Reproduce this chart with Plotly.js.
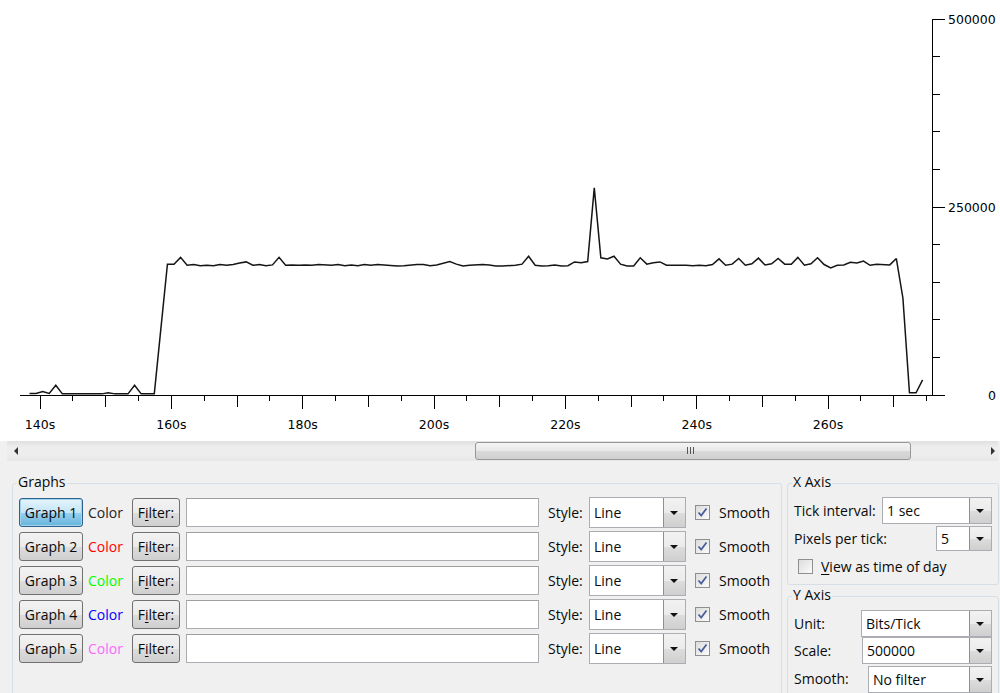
<!DOCTYPE html>
<html>
<head>
<meta charset="utf-8">
<script src="https://cdn.plot.ly/plotly-3.0.1.min.js"></script>
<style>
  html, body { margin:0; padding:0; width:1000px; height:693px; overflow:hidden; background:#f0f0f0; }
  #top { position:absolute; left:0; top:0; width:1000px; height:441px; background:#fff; }
  #chart { position:absolute; left:0; top:0; width:1000px; height:437px; }
  .g { position:absolute; font-family:"Open Sans", "Noto Sans", sans-serif; font-size:14px; color:#0a0a0a; white-space:nowrap; }
  .lbl { position:absolute; display:flex; align-items:center; height:29px; }
  .btn { position:absolute; height:27px; border:1px solid #707070; border-radius:3px;
         background:linear-gradient(#f2f2f2 0%, #ebebeb 50%, #dddddd 51%, #cfcfcf 100%);
         display:flex; align-items:center; justify-content:center; box-sizing:content-box; }
  .btn.focus { border-color:#2c628b; background:linear-gradient(#e5f4fc 0%, #c4e5f6 50%, #98d1ef 51%, #68b3db 100%);
         box-shadow: inset 0 0 0 1px #9fd3f0; }
  .inp { position:absolute; height:27px; border:1px solid #abadb3; border-top-color:#a0a0a0; background:#fff; }
  .combo { position:absolute; border:1px solid #abadb3; background:#fff; box-sizing:border-box; }
  .combo .t { position:absolute; left:4px; top:0; bottom:0; display:flex; align-items:center; }
  .combo .dd { position:absolute; right:0; top:0; bottom:0; width:21px; border-left:1px solid #8e8f8f;
         background:linear-gradient(#f2f2f2 0%, #ebebeb 50%, #dddddd 51%, #cfcfcf 100%); }
  .combo .dd:after { content:""; position:absolute; left:6px; top:50%; margin-top:-2px; border-left:4px solid transparent;
         border-right:4px solid transparent; border-top:4px solid #111; }
  .chk { position:absolute; width:13px; height:13px; border:1px solid #8e8f8f; background:linear-gradient(135deg,#dcdcdc,#fbfbfb); }
  .chk svg { position:absolute; left:1px; top:1px; }
  .grp { position:absolute; border:1px solid #d5dfe5; border-radius:3px; }
  .grpt { position:absolute; background:#f0f0f0; padding:0 1px; line-height:16px; }
  u { text-decoration:underline; text-underline-offset:2px; }
</style>
</head>
<body>
<div id="top"></div>
<div id="chart"></div>

<!-- scrollbar -->
<div style="position:absolute;left:7px;top:441px;width:991px;height:20px;background:linear-gradient(#e0e0e0,#ededed 30%,#ededed 70%,#e6e6e6);"></div>
<div style="position:absolute;left:14px;top:447px;width:0;height:0;border-top:4px solid transparent;border-bottom:4px solid transparent;border-right:4px solid #333;"></div>
<div style="position:absolute;left:991px;top:447px;width:0;height:0;border-top:4px solid transparent;border-bottom:4px solid transparent;border-left:4px solid #333;"></div>
<div style="position:absolute;left:475px;top:442px;width:434px;height:16px;border:1px solid #979797;border-radius:3px;background:linear-gradient(#f4f4f4,#e8e8e8 50%,#d9d9d9 51%,#d0d0d0);"></div>
<div style="position:absolute;left:687px;top:447px;width:1px;height:7px;background:#555;"></div>
<div style="position:absolute;left:690px;top:447px;width:1px;height:7px;background:#555;"></div>
<div style="position:absolute;left:693px;top:447px;width:1px;height:7px;background:#555;"></div>

<div id="gui"></div>

<script>
// ---------------- data ----------------
const times = [138.4,139.4,140.4,141.4,142.4,143.4,144.4,145.4,146.4,147.4,148.4,149.4,150.4,151.4,152.4,153.4,154.4,155.4,156.4,157.4,
  158.4,159.4,160.4,161.4,162.4,163.4,164.4,165.4,166.4,167.4,168.4,169.4,170.4,171.4,172.4,173.4,174.4,175.4,176.4,177.4,
  178.4,179.4,180.4,181.4,182.4,183.4,184.4,185.4,186.4,187.4,188.4,189.4,190.4,191.4,192.4,193.4,194.4,195.4,196.4,197.4,
  198.4,199.4,200.4,201.4,202.4,203.4,204.4,205.4,206.4,207.4,208.4,209.4,210.4,211.4,212.4,213.4,214.4,215.4,216.4,217.4,
  218.4,219.4,220.4,221.4,222.4,223.4,224.4,225.4,226.4,227.4,228.4,229.4,230.4,231.4,232.4,233.4,234.4,235.4,236.4,237.4,
  238.4,239.4,240.4,241.4,242.4,243.4,244.4,245.4,246.4,247.4,248.4,249.4,250.4,251.4,252.4,253.4,254.4,255.4,256.4,257.4,
  258.4,259.4,260.4,261.4,262.4,263.4,264.4,265.4,266.4,267.4,268.4,269.4,270.4,271.4,272.4,273.4,274.4];
const bitsPerTick = [2000,2000,4500,2000,13000,1500,1500,1500,1500,1500,1500,1500,3000,1500,1500,1500,13000,1500,1500,1500,
  88000,174000,174000,183000,172500,173500,172000,172500,172000,173500,172500,173500,175500,177000,172500,173500,172000,173000,183000,172500,
  173000,172500,173000,172500,173500,173000,172500,173500,172000,173000,172000,173500,172500,173500,172500,171500,171500,172000,173000,173500,
  173500,172000,173000,175000,177500,174000,171500,172500,173500,173500,173000,171500,171500,172000,172500,174000,184500,172500,171500,172000,
  173000,171500,172000,177000,176000,177500,275500,182500,181000,184500,174000,171500,171500,182500,174000,176000,177000,172500,172500,173000,
  172500,172000,172500,172000,173500,181000,172500,174000,181500,172500,174500,182000,173000,174500,181500,174000,174000,183000,172500,174500,
  182500,173500,169000,172500,173000,176500,175500,178000,172500,174000,174000,173000,181500,129000,3000,3000,20000];
const xTickVals = [140,160,180,200,220,240,260];
const xTickText = ['140s','160s','180s','200s','220s','240s','260s'];
const yTickVals = [0,250000,500000];
const yTickText = ['0','250000','500000'];

// GUI texts
const graphNames = ['Graph 1','Graph 2','Graph 3','Graph 4','Graph 5'];
const graphColors = ['#222222','#ff0000','#00ff00','#0000ff','#ff66ff'];

// ---------------- chart ----------------
const tickFont = {family:'DejaVu Sans', size:12.5, color:'#000'};
const xr = [136.95, 275.83];
const trace = {x:times, y:bitsPerTick, type:'scatter', mode:'lines',
  line:{color:'#151515', width:1.5}, hoverinfo:'skip', xaxis:'x', yaxis:'y'};

const layout = {
  width:1000, height:437,
  margin:{l:20, r:68, t:19, b:42, pad:0},
  paper_bgcolor:'#ffffff', plot_bgcolor:'#ffffff',
  showlegend:false,
  xaxis:{range:xr, tickmode:'array', tickvals:xTickVals, ticktext:xTickText,
    ticks:'outside', ticklen:13, tickwidth:1, tickcolor:'#000',
    showline:true, linecolor:'#000', linewidth:1, showgrid:false, zeroline:false,
    tickfont:tickFont, ticklabelstandoff:5, fixedrange:true,
    minor:{tickmode:'linear', tick0:0, dtick:5, ticks:'outside', ticklen:5, tickcolor:'#000', tickwidth:1, showgrid:false}},
  xaxis2:{range:xr, overlaying:'x', anchor:'y', side:'bottom', tickmode:'linear', tick0:0, dtick:10,
    ticks:'outside', ticklen:11, tickwidth:1, tickcolor:'#000', showticklabels:false,
    showline:false, showgrid:false, zeroline:false, fixedrange:true},
  yaxis:{range:[0,500000], side:'right', tickmode:'array', tickvals:yTickVals, showticklabels:false,
    ticks:'outside', ticklen:12, tickwidth:1, tickcolor:'#000',
    showline:true, linecolor:'#000', linewidth:1, showgrid:false, zeroline:false, fixedrange:true,
    minor:{tickmode:'linear', tick0:0, dtick:50000, ticks:'outside', ticklen:7, tickcolor:'#000', tickwidth:1, showgrid:false}},
  annotations: yTickVals.map((v,i)=>({xref:'paper', yref:'y', x:(998-20)/912, y:v, xanchor:'right', yanchor:'middle',
    text:yTickText[i], showarrow:false, font:tickFont}))
};
const dummy = {x:[], y:[], type:'scatter', mode:'lines', xaxis:'x2', yaxis:'y', hoverinfo:'skip'};
Plotly.newPlot('chart', [trace, dummy], layout, {displayModeBar:false, staticPlot:true});

// ---------------- GUI ----------------
const gui = document.getElementById('gui');
function el(html){ gui.insertAdjacentHTML('beforeend', html); }
const checkSvg = '<svg width="11" height="11" viewBox="0 0 11 11"><path d="M1.5 5.5 L4.2 8.5 L9.5 1.5" stroke="#4a5f97" stroke-width="1.8" fill="none"/></svg>';

// Graphs group
el('<div class="grp" style="left:12px;top:483px;width:768px;height:240px;"></div>');
el('<div class="g grpt" style="left:17px;top:474px;">Graphs</div>');
const rowTops = [498,532,566,600,634];
rowTops.forEach((t,i)=>{
  el(`<div class="g btn${i===0?' focus':''}" style="left:19px;top:${t}px;width:62px;">${graphNames[i]}</div>`);
  el(`<div class="g lbl" style="left:88px;top:${t}px;color:${graphColors[i]};">Color</div>`);
  el(`<div class="g btn" style="left:132px;top:${t}px;width:46px;">F<u>i</u>lter:</div>`);
  el(`<div class="inp" style="left:186px;top:${t}px;width:351px;"></div>`);
  el(`<div class="g lbl" style="left:548px;top:${t}px;">Style:</div>`);
  el(`<div class="g combo" style="left:589px;top:${t-1}px;width:97px;height:31px;"><div class="t">Line</div><div class="dd"></div></div>`);
  el(`<div class="chk" style="left:695px;top:${t+7}px;">${checkSvg}</div>`);
  el(`<div class="g lbl" style="left:719px;top:${t}px;">Smooth</div>`);
});

// X Axis group
el('<div class="grp" style="left:787px;top:483px;width:210px;height:100px;"></div>');
el('<div class="g grpt" style="left:792px;top:474px;">X Axis</div>');
el('<div class="g lbl" style="left:794px;top:497px;height:27px;">Tick interval:</div>');
el('<div class="g combo" style="left:882px;top:497px;width:110px;height:27px;"><div class="t">1 sec</div><div class="dd"></div></div>');
el('<div class="g lbl" style="left:794px;top:525px;height:27px;">Pixels per tick:</div>');
el('<div class="g combo" style="left:936px;top:526px;width:56px;height:25px;"><div class="t">5</div><div class="dd"></div></div>');
el('<div class="chk" style="left:798px;top:559px;"></div>');
el('<div class="g lbl" style="left:821px;top:553px;height:27px;"><u>V</u>iew as time of day</div>');

// Y Axis group
el('<div class="grp" style="left:787px;top:596px;width:210px;height:130px;"></div>');
el('<div class="g grpt" style="left:792px;top:587px;">Y Axis</div>');
el('<div class="g lbl" style="left:794px;top:610px;height:27px;">Unit:</div>');
el('<div class="g combo" style="left:861px;top:610px;width:131px;height:27px;"><div class="t">Bits/Tick</div><div class="dd"></div></div>');
el('<div class="g lbl" style="left:794px;top:637px;height:27px;">Scale:</div>');
el('<div class="g combo" style="left:862px;top:637px;width:130px;height:27px;"><div class="t">500000</div><div class="dd"></div></div>');
el('<div class="g lbl" style="left:794px;top:665px;height:27px;">Smooth:</div>');
el('<div class="g combo" style="left:868px;top:666px;width:124px;height:27px;"><div class="t">No filter</div><div class="dd"></div></div>');
</script>
</body>
</html>
